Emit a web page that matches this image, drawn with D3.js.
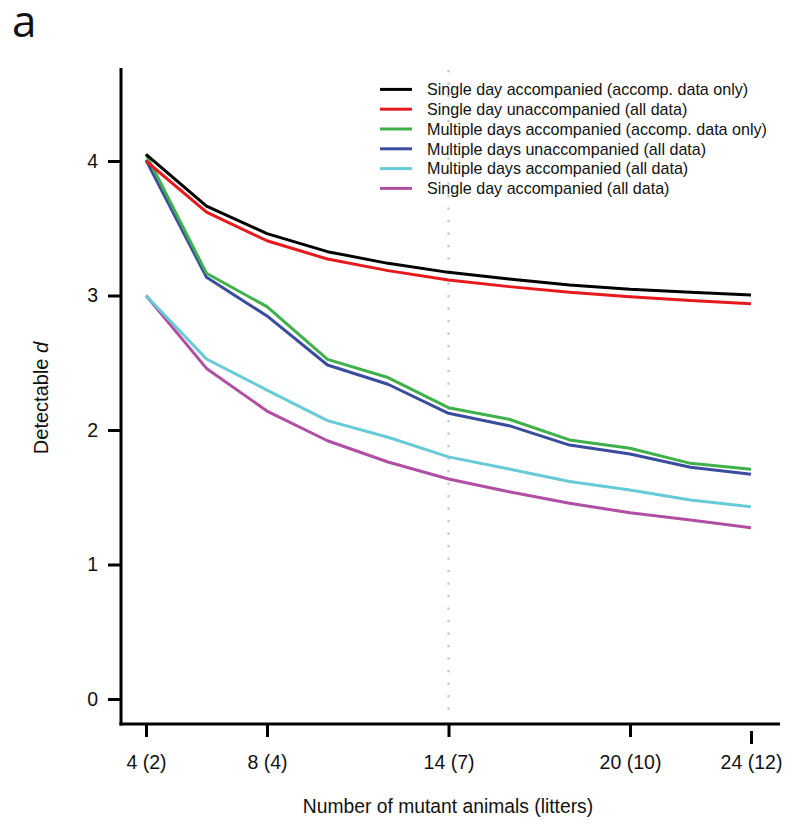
<!DOCTYPE html>
<html><head><meta charset="utf-8">
<script src="https://cdn.jsdelivr.net/npm/d3@7"></script>
<style>body{margin:0;background:#fff}svg{display:block}</style>
</head><body>
<svg id="c" width="800" height="835"></svg>
<script>
const xs = [4, 6, 8, 10, 12, 14, 16, 18, 20, 22, 24];
const xTickVals = [4, 8, 14, 20, 24];
const xTickLabels = ["4 (2)", "8 (4)", "14 (7)", "20 (10)", "24 (12)"];
const yTickVals = [0, 1, 2, 3, 4];
const seriesNames = [
  "Single day accompanied (accomp. data only)",
  "Single day unaccompanied (all data)",
  "Multiple days accompanied (accomp. data only)",
  "Multiple days unaccompanied (all data)",
  "Multiple days accompanied (all data)",
  "Single day accompanied (all data)"
];
const seriesColors = ["#000000", "#e8191c", "#3fb14a", "#3a4c9f", "#66cbd6", "#b04fa4"];
const sdAccOnly   = [4.05, 3.665, 3.46, 3.326, 3.239, 3.172, 3.123, 3.078, 3.046, 3.024, 3.004];
const sdUnaccAll  = [4.00, 3.62, 3.407, 3.271, 3.185, 3.115, 3.066, 3.024, 2.99, 2.963, 2.939];
const mdAccOnly   = [4.05, 3.165, 2.917, 2.525, 2.39, 2.166, 2.08, 1.926, 1.864, 1.752, 1.708];
const mdUnaccAll  = [4.007, 3.135, 2.848, 2.483, 2.34, 2.124, 2.032, 1.888, 1.822, 1.723, 1.671];
const mdAccAll    = [3.0, 2.528, 2.297, 2.07, 1.946, 1.80, 1.71, 1.617, 1.554, 1.48, 1.43];
const sdAccAll    = [3.0, 2.458, 2.141, 1.92, 1.762, 1.636, 1.541, 1.455, 1.385, 1.331, 1.274];
const seriesValues = [sdAccOnly, sdUnaccAll, mdAccOnly, mdUnaccAll, mdAccAll, sdAccAll];
const refX = 14;

const svg = d3.select("#c");
const x = d3.scaleLinear().domain([4, 24]).range([146, 751]);
const y = d3.scaleLinear().domain([0, 4]).range([699, 161]);
const sans = "'Liberation Sans', Arial, sans-serif";

// panel letter
svg.append("text").attr("x", 12).attr("y", 37).attr("font-family", "'Open Sans', 'DejaVu Sans', sans-serif")
  .attr("font-size", 44).attr("fill", "#111").text("a");

// dotted reference line
svg.append("line").attr("x1", x(refX)).attr("x2", x(refX)).attr("y1", 70).attr("y2", 716)
  .attr("stroke", "#c4c4c4").attr("stroke-width", 2.2).attr("stroke-dasharray", "2.2,10.3");

// axes lines
svg.append("line").attr("x1", 121).attr("x2", 121).attr("y1", 68).attr("y2", 725.5)
  .attr("stroke", "#000").attr("stroke-width", 3);
svg.append("line").attr("x1", 119.5).attr("x2", 780).attr("y1", 724).attr("y2", 724)
  .attr("stroke", "#000").attr("stroke-width", 3);

// y ticks
const yAxis = d3.axisLeft(y).tickValues(yTickVals).tickSize(13).tickPadding(10).tickFormat(d3.format("d"));
const gy = svg.append("g").attr("transform", "translate(121,0)").call(yAxis);
gy.select(".domain").remove();
gy.selectAll(".tick line").attr("stroke", "#000").attr("stroke-width", 3);
gy.selectAll(".tick text").attr("font-family", sans).attr("font-size", 19.5).attr("fill", "#111");

// x ticks
const xAxis = d3.axisBottom(x).tickValues(xTickVals.slice(0, 4)).tickSize(13).tickPadding(18)
  .tickFormat((d) => xTickLabels[xTickVals.indexOf(d)]);
const gx = svg.append("g").attr("transform", "translate(0,724)").call(xAxis);
gx.select(".domain").remove();
gx.selectAll(".tick line").attr("stroke", "#000").attr("stroke-width", 3);
gx.selectAll(".tick text").attr("font-family", sans).attr("font-size", 19.5).attr("fill", "#111");
// last tick is offset below the axis
const xAxis2 = d3.axisBottom(x).tickValues(xTickVals.slice(4)).tickSize(13).tickPadding(11)
  .tickFormat((d) => xTickLabels[xTickVals.indexOf(d)]);
const gx2 = svg.append("g").attr("transform", "translate(0,731)").call(xAxis2);
gx2.select(".domain").remove();
gx2.selectAll(".tick line").attr("stroke", "#000").attr("stroke-width", 3);
gx2.selectAll(".tick text").attr("font-family", sans).attr("font-size", 19.5).attr("fill", "#111");

// axis titles
svg.append("text").attr("x", 448).attr("y", 813).attr("text-anchor", "middle")
  .attr("font-family", sans).attr("font-size", 19.3).attr("fill", "#111")
  .text("Number of mutant animals (litters)");
const yl = svg.append("text").attr("transform", "translate(48,398) rotate(-90)").attr("text-anchor", "middle")
  .attr("font-family", sans).attr("font-size", 20).attr("fill", "#111");
yl.append("tspan").text("Detectable ");
yl.append("tspan").attr("font-style", "italic").text("d");

// lines (draw in reverse so black/red on top)
const line = d3.line().x((d, i) => x(xs[i])).y((d) => y(d));
const order = [5, 4, 3, 2, 1, 0];
order.forEach((k) => {
  svg.append("path").datum(seriesValues[k]).attr("d", line).attr("fill", "none")
    .attr("stroke", seriesColors[k]).attr("stroke-width", 3).attr("stroke-linejoin", "round");
});

// legend
const lg = svg.append("g");
seriesNames.forEach((n, i) => {
  const yy = 89.4 + i * 19.8;
  lg.append("line").attr("x1", 380).attr("x2", 412).attr("y1", yy).attr("y2", yy)
    .attr("stroke", seriesColors[i]).attr("stroke-width", 3);
  lg.append("text").attr("x", 427).attr("y", yy + 5.8).attr("font-family", sans)
    .attr("font-size", 16.1).attr("fill", "#111").text(n);
});
</script>
</body></html>
